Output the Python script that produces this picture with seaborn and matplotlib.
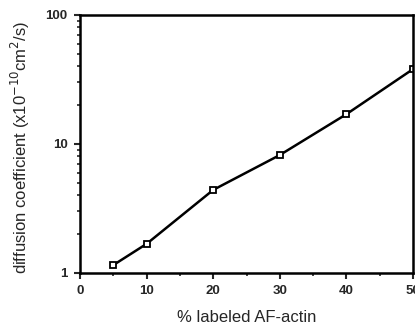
import pandas as pd
import seaborn as sns
import matplotlib.pyplot as plt
from matplotlib.ticker import LogLocator, FixedLocator, NullFormatter

sns.set_style('ticks')
plt.rcParams['font.family'] = ['Liberation Sans', 'DejaVu Sans']

labeled_pct = [5, 10, 20, 30, 40, 50]
diff_coef = [1.15, 1.68, 4.4, 8.2, 17.0, 38.0]
x_ticks = [0, 10, 20, 30, 40, 50]
y_ticks = [1, 10, 100]

df = pd.DataFrame({'pct': labeled_pct, 'D': diff_coef})

fig = plt.figure(figsize=(4.15, 3.26), dpi=100)
ax = fig.add_axes([0.193, 0.163, 0.802, 0.791])

sns.lineplot(x='pct', y='D', data=df, ax=ax, color='black', linewidth=1.8,
             marker='s', markersize=5, markerfacecolor='white',
             markeredgecolor='black', markeredgewidth=1.3)

ax.set_yscale('log')
ax.set_xlim(0, 50)
ax.set_ylim(1, 100)
ax.set_xticks(x_ticks)
ax.xaxis.set_minor_locator(FixedLocator([5, 15, 25, 35, 45]))
ax.set_yticks(y_ticks)
ax.set_yticklabels(['1', '10', '100'])
ax.yaxis.set_minor_locator(LogLocator(base=10, subs=range(2, 10)))
ax.yaxis.set_minor_formatter(NullFormatter())

for s in ax.spines.values():
    s.set_linewidth(1.8)
    s.set_color('black')
ax.tick_params(which='major', length=4, width=1.5, labelsize=9.5, pad=5)
ax.tick_params(which='minor', length=2.5, width=1.2)
for lab in ax.get_xticklabels() + ax.get_yticklabels():
    lab.set_fontweight('bold')

ax.set_xlabel('% labeled AF-actin', fontsize=12, labelpad=9)
ax.set_ylabel('diffusion coefficient (x10$^{-10}$cm$^{2}$/s)', fontsize=12)
ax.yaxis.set_label_coords(-0.145, 0.485)

fig.savefig('out.png', dpi=100)
